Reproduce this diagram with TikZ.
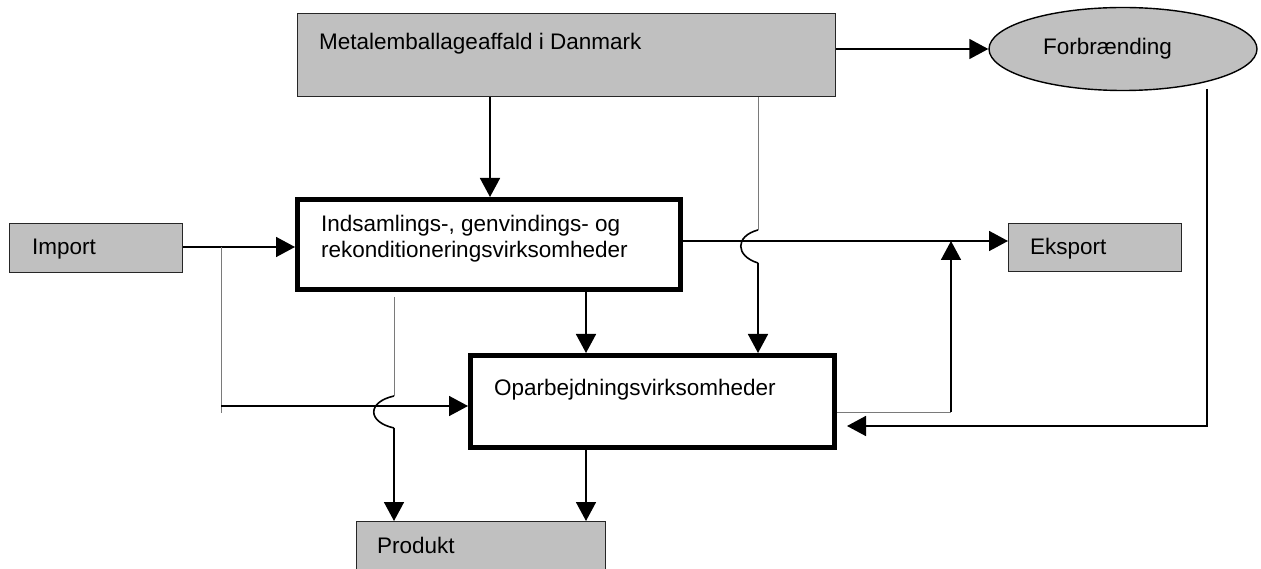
\documentclass[tikz,border=0pt]{standalone}
\usepackage{fontspec}
\setmainfont{Liberation Sans}
\usepackage{xcolor}
\usetikzlibrary{arrows.meta,shapes.geometric,calc}
\definecolor{graybg}{HTML}{C0C0C0}
\definecolor{linegray}{HTML}{7A7A7A}

\begin{document}
\begin{tikzpicture}[x=1pt, y=-1pt,
  >={Triangle[length=19pt,width=20pt]},
  graybox/.style={draw=black!85, line width=1.4pt, fill=graybg, inner sep=0pt, anchor=north west},
  thickbox/.style={draw=black, line width=5pt, fill=white, inner sep=0pt, anchor=north west},
  lbl/.style={anchor=base west, inner sep=0pt, font=\fontsize{22.5}{25}\selectfont},
  flow/.style={draw=black, line width=1.6pt},
  graylink/.style={draw=linegray, line width=1pt}]

  \useasboundingbox (0,0) rectangle (1261,569);
  \clip (0,0) rectangle (1261,569);

	%boxes
    \foreach \name/\x/\y/\w/\h in {metal/297/13/538/83, imp/9/223/173/49, eks/1008/223/173/48, prod/356/521/249/60}{
        \node[graybox, minimum width=\w pt, minimum height=\h pt] (\name) at (\x,\y) {};
    }
    \foreach \name/\x/\y/\w/\h in {indsam/295/197/383/90, opar/468/353/364/92}{
        \node[thickbox, minimum width=\w pt, minimum height=\h pt] (\name) at (\x,\y) {};
    }
    \node[ellipse, draw=black, line width=1.4pt, fill=graybg, inner sep=0pt,
          minimum width=268pt, minimum height=83pt] (forb) at (1123,49) {};

	%texts
    \foreach \x/\y/\txt/\name in {319/50/{Metalemballageaffald i Danmark}/metaltxt,
        321/232/{Indsamlings-, genvindings- og}/indtxta, 321/258/{rekonditioneringsvirksomheder}/indtxtb,
        32/255/{Import}/imptxt, 1030/255/{Eksport}/ekstxt, 1043/55/{Forbrænding}/forbtxt,
        494/395/{Oparbejdningsvirksomheder}/opartxt, 377/553/{Produkt}/prodtxt}{
        \node[lbl] (\name) at (\x,\y) {\txt};
    }

	%points
    \coordinate (xa) at (490,0);
    \coordinate (xm) at (586,0);
    \coordinate (jn) at (221,247);
    \coordinate (jnb) at (221,413);
    \coordinate (jnc) at (221,406);
    \coordinate (ek) at (951,241);
    \coordinate (up) at (951,412);
    \coordinate (fb) at (1207,89);
    \coordinate (fc) at (1207,426);
    \coordinate (b1) at (758,230);
    \coordinate (b2) at (758,263);
    \coordinate (b3) at (394,297);
    \coordinate (b4) at (394,396);
    \coordinate (b5) at (394,428);

	%arrows
    \draw[flow,->] (metal.east |- forb.west) -- (forb.west);
    \draw[flow,->] (xa |- metal.south) -- (xa |- indsam.north);

    \draw[graylink] (b1 |- metal.south) -- (b1);
    \draw[flow] (b1) .. controls ($(b1)+(-23,6)$) and ($(b2)+(-23,-7)$) .. (b2);
    \draw[flow,->] (b2) -- (b2 |- opar.north);

    \draw[flow,->] (imp.east |- jn) -- (indsam.west |- jn);
    \draw[graylink] (jn) -- (jnb);
    \draw[flow,->] (jnc) -- (jnc -| opar.west);

    \draw[flow,->] (indsam.east |- ek) -- (eks.west |- ek);
    \draw[graylink] (opar.east |- up) -- (up);
    \draw[flow,->] (up) -- (ek);

    \draw[flow,->] (fb) -- (fc) -- ([xshift=10pt]opar.east |- fc);

    \draw[graylink] (b3) -- (b4);
    \draw[flow] (b4) .. controls ($(b4)+(-27,6)$) and ($(b5)+(-27,-6)$) .. (b5);
    \draw[flow,->] (b5) -- (b5 |- prod.north);

    \draw[flow,->] (xm |- indsam.south) -- (xm |- opar.north);
    \draw[flow,->] (xm |- opar.south) -- (xm |- prod.north);

\end{tikzpicture}
\end{document}
